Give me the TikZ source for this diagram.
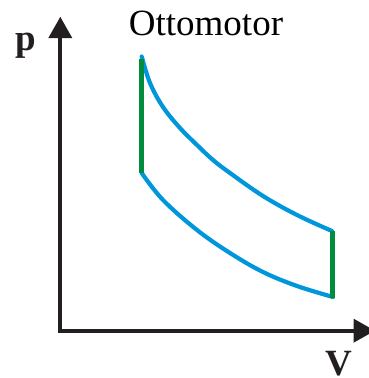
\documentclass[tikz,border=0pt]{standalone}
\usepackage{fontspec}
\setmainfont{Liberation Serif}
\usetikzlibrary{arrows.meta}
\definecolor{axisblack}{RGB}{35,31,32}
\definecolor{curveblue}{RGB}{0,150,220}
\definecolor{isogreen}{RGB}{0,140,60}
\tikzset{
  axisline/.style={draw=axisblack, line width=4pt, -{Triangle[length=21.5pt,width=23pt]}},
  adiabat/.style={draw=curveblue, line width=4.2pt, line cap=round},
  isochor/.style={draw=isogreen, line width=4.5pt},
  lbl/.style={inner sep=0pt, text=axisblack, font=\fontsize{37}{40}\selectfont\bfseries},
  ttl/.style={inner sep=0pt, font=\fontsize{37}{40}\selectfont}
}
\begin{document}
\begin{tikzpicture}[x=1pt,y=-1pt]
\useasboundingbox (0,0) rectangle (369,378);
\clip (0,0) rectangle (369,378);
\coordinate (O) at (58.3,330.7);
\coordinate (Ytop) at (60.3,16.7);
\coordinate (Xend) at (375,330.7);
\coordinate (Ycorner) at (60.3,333);
\draw[axisline] (Ycorner) -- (Ytop);
\draw[axisline] (O) -- (Xend);
\node[ttl, anchor=base] (title) at (206,35) {Ottomotor};
\node[lbl, anchor=base] (p) at (26,50) {p};
\node[lbl, anchor=base] (V) at (339,375) {V};
\coordinate (A) at (141.7,57);
\coordinate (B) at (141.7,173);
\coordinate (C) at (332.7,231);
\coordinate (D) at (332.7,297);
\draw[adiabat] plot[smooth, tension=0.6] coordinates {(141.7,56.5) (150,83) (163,107) (180,128) (197,145) (213,160) (230,173) (263,196) (297,215) (332,231)};
\draw[adiabat] plot[smooth, tension=0.6] coordinates {(141.7,173) (163,200) (197,230) (230,253) (263,272) (297,286) (333,297)};
\draw[isochor] (141.7,59) -- (B);
\draw[isochor] (C) -- (332.7,298);
\end{tikzpicture}
\end{document}
